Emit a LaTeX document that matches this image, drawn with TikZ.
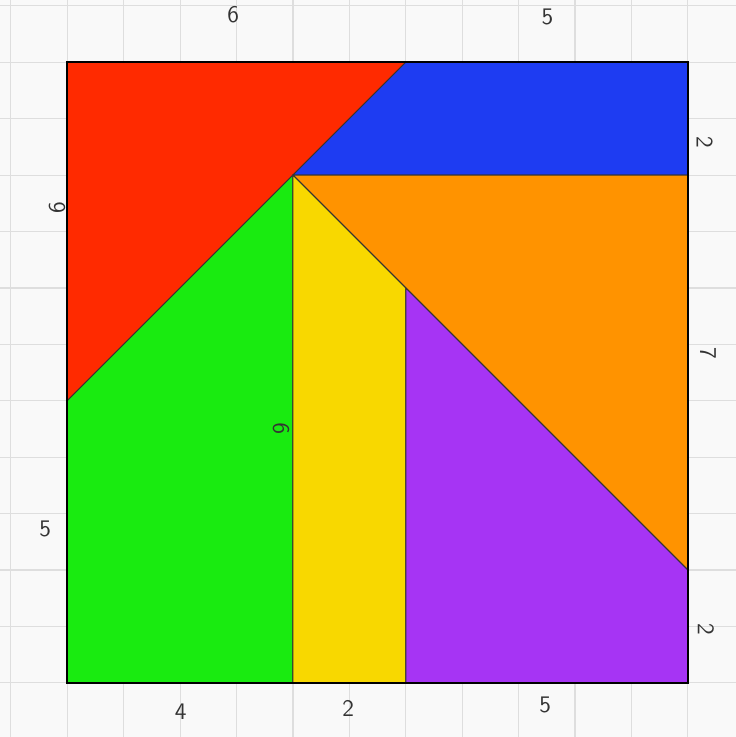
\documentclass[tikz,border=0pt]{standalone}
\usepackage{xcolor,tikz}
\definecolor{paper}{HTML}{F9F9F9}
\definecolor{gridc}{HTML}{DEDEDE}
\definecolor{pcred}{HTML}{FF2A00}
\definecolor{pcblue}{HTML}{1E3CF2}
\definecolor{pcorange}{HTML}{FF9300}
\definecolor{pcyellow}{HTML}{F8D800}
\definecolor{pcgreen}{HTML}{19EB10}
\definecolor{pcpurple}{HTML}{A634F4}
\definecolor{ink}{HTML}{333333}
\tikzset{piece/.style={draw=ink,line width=0.5pt,line join=round},
  lab/.style={text=ink,font=\sffamily\large,inner sep=1pt}}

\begin{document}
\begin{tikzpicture}
\fill[paper] (-1.193,-0.961) rectangle (11.854,12.104);
\useasboundingbox (-1.193,-0.961) rectangle (11.854,12.104);
\draw[gridc,line width=0.6pt] (-1.193,-0.961) grid (11.854,12.104);
% corners of the pieces
\coordinate (A) at (0,0);   \coordinate (B) at (4,0);
\coordinate (C) at (6,0);   \coordinate (D) at (11,0);
\coordinate (E) at (11,2);  \coordinate (F) at (11,9);
\coordinate (G) at (11,11); \coordinate (H) at (6,11);
\coordinate (K) at (0,11);  \coordinate (L) at (0,5);
\coordinate (P) at (4,9);   \coordinate (Q) at (6,7);
\filldraw[piece,fill=pcred] (K)--(H)--(P)--(L)--cycle;
\filldraw[piece,fill=pcblue] (H)--(G)--(F)--(P)--cycle;
\filldraw[piece,fill=pcorange] (P)--(F)--(E)--(Q)--cycle;
\filldraw[piece,fill=pcgreen] (A)--(B)--(P)--(L)--cycle;
\filldraw[piece,fill=pcyellow] (B)--(C)--(Q)--(P)--cycle;
\filldraw[piece,fill=pcpurple] (C)--(D)--(E)--(Q)--cycle;
\draw[black,line width=0.9pt] (A)--(D)--(G)--(K)--cycle;
% side lengths
\node[lab] (t1) at (2.94,11.84) {6};
\node[lab] (t2) at (8.51,11.80) {5};
\node[lab,rotate=90] (l1) at (-0.18,8.42) {6};
\node[lab] (l2) at (-0.39,2.72) {5};
\node[lab,rotate=-90] (r1) at (11.30,9.58) {2};
\node[lab,rotate=-90] (r2) at (11.36,5.84) {7};
\node[lab,rotate=-90] (r3) at (11.32,0.94) {2};
\node[lab] (b1) at (2.01,-0.52) {4};
\node[lab] (b2) at (4.98,-0.45) {2};
\node[lab] (b3) at (8.47,-0.39) {5};
\node[lab,rotate=90] (m1) at (3.79,4.50) {9};
\end{tikzpicture}
\end{document}
